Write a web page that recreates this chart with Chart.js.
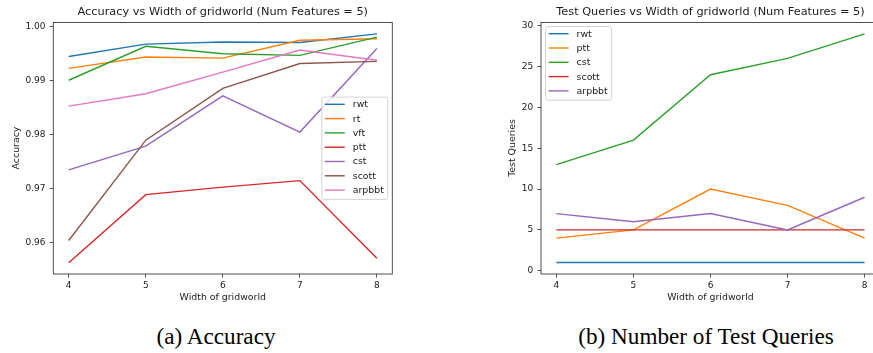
<!DOCTYPE html>
<html><head><meta charset="utf-8">
<script src="https://cdn.jsdelivr.net/npm/chart.js@4.4.0/dist/chart.umd.min.js"></script>
<style>
html,body{margin:0;padding:0;background:#fff;overflow:hidden;width:873px;height:353px;}
#wrap{position:relative;width:873px;height:353px;overflow:hidden;}
canvas{position:absolute;top:0;}
.t{position:absolute;font-family:"DejaVu Sans";color:#1a1a1a;white-space:nowrap;line-height:1;transform:translate(-50%,-50%);}
.r{position:absolute;font-family:"DejaVu Sans";color:#1a1a1a;white-space:nowrap;font-size:9.4px;line-height:12px;height:12px;width:200px;text-align:center;transform:rotate(-90deg);transform-origin:0 0;}
.cap{position:absolute;font-family:"Liberation Serif";font-size:23.2px;line-height:1;color:#000;white-space:nowrap;transform:translate(-50%,-50%);}
</style></head><body>
<div id="wrap">
<canvas id="c1" width="440" height="292" style="left:0;width:440px;height:292px"></canvas>
<canvas id="c2" width="450" height="292" style="left:430px;width:450px;height:292px"></canvas>
<div class="t" style="left:222.8px;top:11.8px;font-size:11.3px">Accuracy vs Width of gridworld (Num Features = 5)</div>
<div class="t" style="left:710.5px;top:11.8px;font-size:11.3px">Test Queries vs Width of gridworld (Num Features = 5)</div>
<div class="t" style="left:222.8px;top:296.7px;font-size:9.4px">Width of gridworld</div>
<div class="t" style="left:710.5px;top:296.7px;font-size:9.4px">Width of gridworld</div>
<div class="r" style="left:10px;top:248px">Accuracy</div>
<div class="r" style="left:506px;top:248px">Test Queries</div>
<div class="cap" style="left:216px;top:337.4px">(a) Accuracy</div>
<div class="cap" style="left:706px;top:337.4px">(b) Number of Test Queries</div>
</div>
<script>
// ---- data ----
const widths = [4, 5, 6, 7, 8];
const xTicks = [4, 5, 6, 7, 8];

const accLabels = ['rwt', 'rt', 'vft', 'ptt', 'cst', 'scott', 'arpbbt'];
const accRwt    = [0.9944, 0.9967, 0.9971, 0.9970, 0.9986];
const accRt     = [0.9922, 0.9943, 0.9941, 0.9974, 0.9977];
const accVft    = [0.9900, 0.9963, 0.9949, 0.9946, 0.9980];
const accPtt    = [0.9562, 0.9688, 0.9702, 0.9714, 0.9570];
const accCst    = [0.9734, 0.9778, 0.9871, 0.9804, 0.9959];
const accScott  = [0.9603, 0.9789, 0.9885, 0.9931, 0.9935];
const accArpbbt = [0.9852, 0.9875, 0.9915, 0.9956, 0.9937];
const accTicks  = [0.96, 0.97, 0.98, 0.99, 1.00];

const tqLabels  = ['rwt', 'ptt', 'cst', 'scott', 'arpbbt'];
const tqRwt     = [1, 1, 1, 1, 1];
const tqPtt     = [4, 5, 10, 8, 4];
const tqCst     = [13, 16, 24, 26, 29];
const tqScott   = [5, 5, 5, 5, 5];
const tqArpbbt  = [7, 6, 7, 5, 9];
const tqTicks   = [0, 5, 10, 15, 20, 25, 30];

const tab10 = ['#1f77b4', '#ff7f0e', '#2ca02c', '#d62728', '#9467bd', '#8c564b', '#e377c2'];

// ---- helpers ----
function mkDatasets(labels, series) {
  return series.map((vals, i) => ({
    label: labels[i],
    data: vals.map((v, j) => ({x: widths[j], y: v})),
    borderColor: tab10[i],
    backgroundColor: tab10[i],
    borderWidth: 1.4,
    pointRadius: 0,
    tension: 0,
    fill: false,
    order: series.length - i
  }));
}

const mpDecor = {
  id: 'mpDecor',
  afterDatasetsDraw(chart, args, opts) {
    const {ctx, chartArea: a} = chart;
    ctx.save();
    ctx.strokeStyle = '#3d3d3d'; ctx.lineWidth = 0.9;
    ctx.strokeRect(a.left, a.top, a.right - a.left, a.bottom - a.top);
    const ds = chart.data.datasets;
    ctx.font = '9.4px "DejaVu Sans"';
    const tw = Math.max(...ds.map(d => ctx.measureText(d.label).width));
    const pad = 3, hl = 20, gap = 8, row = 14.3, edge = 4.6, topOff = 7.2, botOff = 9.3;
    const w = pad + hl + gap + tw + 3.8;
    const h = topOff + botOff + (ds.length - 1) * row;
    let x0, y0;
    if (opts.loc === 'upperLeft') { x0 = a.left + edge; y0 = a.top + 4; }
    else { x0 = a.right - edge - w; y0 = (a.top + a.bottom) / 2 - h / 2; }
    ctx.fillStyle = 'rgba(255,255,255,0.8)';
    ctx.strokeStyle = '#d3d3d3'; ctx.lineWidth = 1;
    ctx.beginPath(); ctx.roundRect(x0, y0, w, h, 2.5); ctx.fill(); ctx.stroke();
    ds.forEach((d, i) => {
      const y = y0 + topOff + i * row;
      ctx.strokeStyle = d.borderColor; ctx.lineWidth = 1.4;
      ctx.beginPath(); ctx.moveTo(x0 + pad, y); ctx.lineTo(x0 + pad + hl, y); ctx.stroke();
      ctx.fillStyle = '#1a1a1a'; ctx.textBaseline = 'middle'; ctx.textAlign = 'left';
      ctx.fillText(d.label, x0 + pad + hl + gap, y + 0.5);
    });
    ctx.restore();
  }
};

function axisCommon(tickVals, fmt, fitProp, fitVal, pad) {
  return {
    type: 'linear',
    afterBuildTicks: s => { s.ticks = tickVals.map(v => ({value: v})); },
    afterFit: s => { s[fitProp] = fitVal; },
    ticks: {
      font: {family: 'DejaVu Sans', size: 9}, color: '#1a1a1a', padding: pad,
      callback: fmt, autoSkip: false, maxRotation: 0, minRotation: 0
    },
    grid: {display: true, drawOnChartArea: false, drawTicks: true, tickLength: 3.5, color: '#3d3d3d', lineWidth: 0.9},
    border: {display: false}
  };
}

function makeChart(id, datasets, yMin, yMax, yTicks, yFmt, padLeft, padRight, loc) {
  const xs = Object.assign(axisCommon(xTicks, v => String(v), 'height', 18, 3), {min: 3.8, max: 8.2});
  const ys = Object.assign(axisCommon(yTicks, yFmt, 'width', 53, 4.3), {min: yMin, max: yMax});
  return new Chart(document.getElementById(id), {
    type: 'line',
    data: {datasets},
    options: {
      responsive: false, animation: false, devicePixelRatio: 1,
      layout: {padding: {left: padLeft, right: padRight, top: 22.5, bottom: 0}},
      scales: {x: xs, y: ys},
      plugins: {legend: {display: false}, tooltip: {enabled: false}, title: {display: false}, mpDecor: {loc}},
      events: []
    },
    plugins: [mpDecor]
  });
}

makeChart('c1',
  mkDatasets(accLabels, [accRwt, accRt, accVft, accPtt, accCst, accScott, accArpbbt]),
  0.9541, 1.0007, accTicks, v => v.toFixed(2), 0.3, 47.7, 'centerRight');

makeChart('c2',
  mkDatasets(tqLabels, [tqRwt, tqPtt, tqCst, tqScott, tqArpbbt]),
  -0.4, 30.4, tqTicks, v => String(v), 58, 0, 'upperLeft');
</script>
</body></html>
